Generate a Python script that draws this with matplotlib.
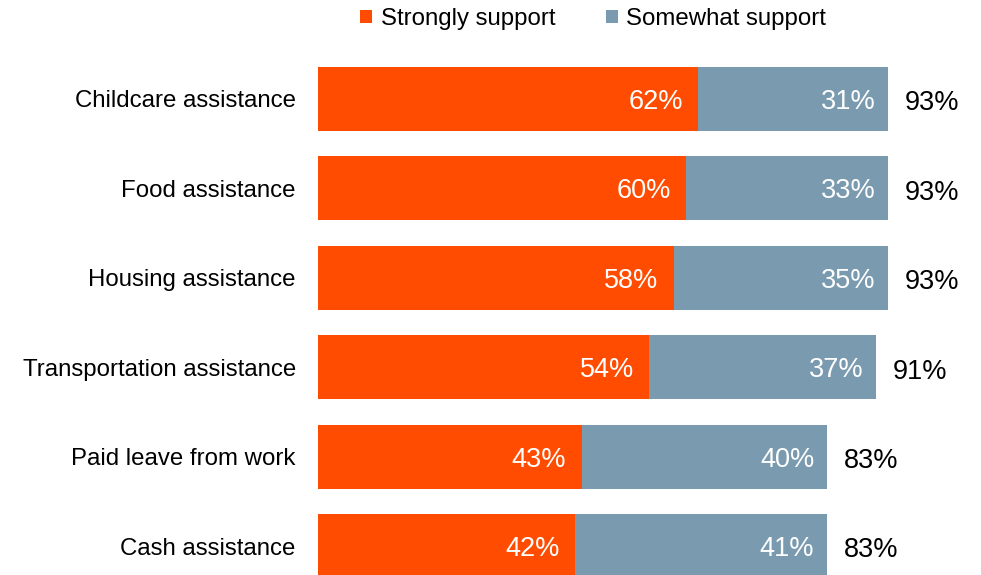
import matplotlib.pyplot as plt

plt.rcParams['font.family'] = ['Liberation Sans', 'DejaVu Sans']

categories = ['Childcare assistance', 'Food assistance', 'Housing assistance',
              'Transportation assistance', 'Paid leave from work', 'Cash assistance']
strongly = [62, 60, 58, 54, 43, 42]
somewhat = [31, 33, 35, 37, 40, 41]
totals = [93, 93, 93, 91, 83, 83]

orange = '#FF4C00'
grey = '#7A9AAF'

fig = plt.figure(figsize=(9.81, 5.75), dpi=100)
ax = fig.add_axes([318 / 981, 0, 613 / 981, 1])

y = list(range(len(categories)))
ax.barh(y, strongly, height=0.716, color=orange, label='Strongly support')
ax.barh(y, somewhat, left=strongly, height=0.716, color=grey, label='Somewhat support')

fs = 17.3
pfs = 19.5
for i in y:
    ax.annotate(f'{strongly[i]}%', (strongly[i], i), xytext=(-11, 0), textcoords='offset points',
                ha='right', va='center_baseline', color='white', fontsize=pfs)
    ax.annotate(f'{somewhat[i]}%', (strongly[i] + somewhat[i], i), xytext=(-9, 0),
                textcoords='offset points', ha='right', va='center_baseline', color='white', fontsize=pfs)
    ax.annotate(f'{totals[i]}%', (strongly[i] + somewhat[i], i), xytext=(12, -1),
                textcoords='offset points', ha='left', va='center_baseline', color='black', fontsize=pfs)

ax.set_xlim(0, 100)
ax.set_ylim(5.324, -1.107)
ax.set_yticks(y)
ax.set_yticklabels(categories, fontsize=fs, va='center_baseline')
ax.tick_params(axis='y', length=0, pad=16)
ax.set_xticks([])
for s in ax.spines.values():
    s.set_visible(False)

fig.legend(loc='center', bbox_to_anchor=(593 / 981, 1 - 19 / 575), ncol=2, frameon=False,
           fontsize=fs, handlelength=0.5, handleheight=0.5, handletextpad=0.35, columnspacing=2.1)

fig.savefig('out.png', dpi=100)
